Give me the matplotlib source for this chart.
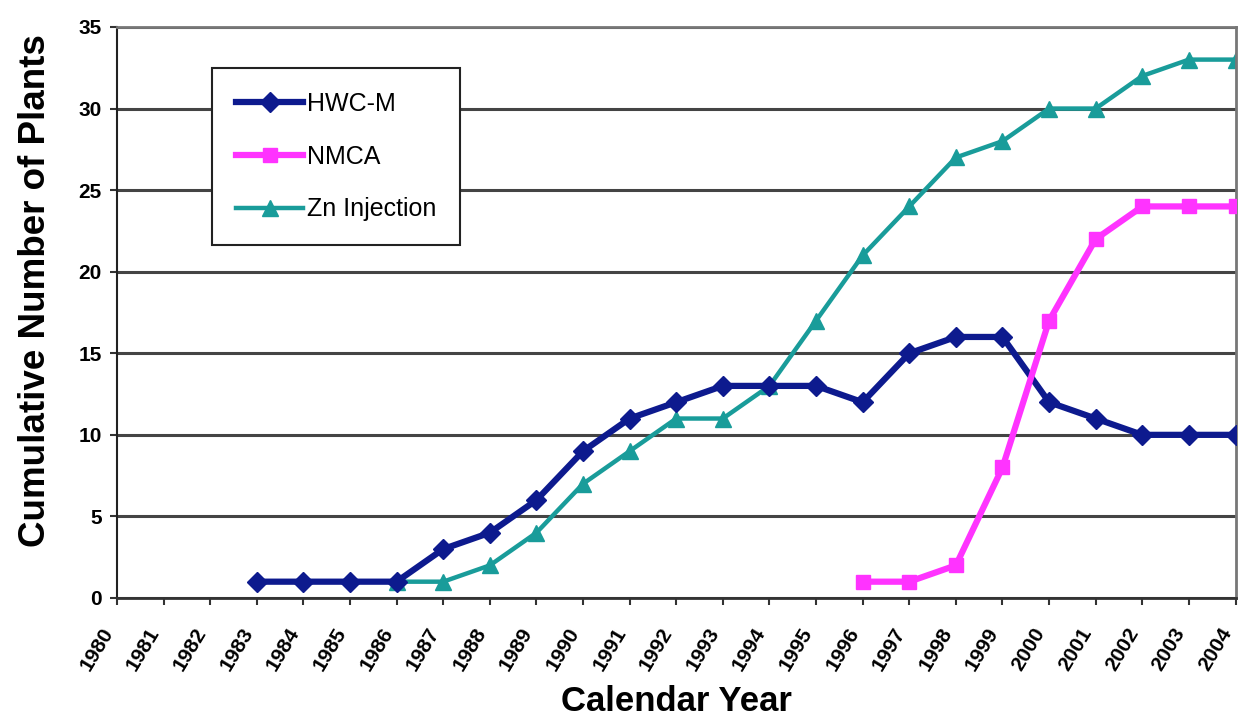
import matplotlib
matplotlib.use("Agg")
import matplotlib.pyplot as plt
import numpy as np

plt.rcParams['font.family'] = ['Liberation Sans', 'DejaVu Sans']

hwc_years = [1983, 1984, 1985, 1986, 1987, 1988, 1989, 1990, 1991, 1992, 1993,
             1994, 1995, 1996, 1997, 1998, 1999, 2000, 2001, 2002, 2003, 2004]
hwc_values = [1, 1, 1, 1, 3, 4, 6, 9, 11, 12, 13, 13, 13, 12, 15, 16, 16, 12, 11, 10, 10, 10]

nmca_years = [1996, 1997, 1998, 1999, 2000, 2001, 2002, 2003, 2004]
nmca_values = [1, 1, 2, 8, 17, 22, 24, 24, 24]

zn_years = [1986, 1987, 1988, 1989, 1990, 1991, 1992, 1993, 1994, 1995, 1996,
            1997, 1998, 1999, 2000, 2001, 2002, 2003, 2004]
zn_values = [1, 1, 2, 4, 7, 9, 11, 11, 13, 17, 21, 24, 27, 28, 30, 30, 32, 33, 33]

year_ticks = list(range(1980, 2005))
y_ticks = [0, 5, 10, 15, 20, 25, 30, 35]

fig = plt.figure(figsize=(12.38, 7.21), dpi=100)
ax = fig.add_axes([0.0945, 0.1706, 0.9035, 0.792])

navy = '#0d1a8e'
magenta = '#ff33ff'
teal = '#199c9a'

ax.plot(hwc_years, hwc_values, color=navy, lw=4.5, marker='D', ms=10,
        label='HWC-M', zorder=3)
ax.plot(nmca_years, nmca_values, color=magenta, lw=4.5, marker='s', ms=9.5,
        label='NMCA', zorder=4)
ax.plot(zn_years, zn_values, color=teal, lw=3.2, marker='^', ms=11,
        label='Zn Injection', zorder=2)

ax.set_xlim(1980, 2004)
ax.set_ylim(0, 35)
ax.set_xticks(year_ticks)
ax.set_xticklabels([str(y) for y in year_ticks], rotation=59, ha='right', va='top',
                   rotation_mode='default', fontsize=15, fontweight='bold')
ax.set_yticks(y_ticks)
ax.set_yticklabels([str(v) for v in y_ticks], fontsize=15, fontweight='bold')
ax.tick_params(axis='both', direction='out', length=5, width=1.5, color='#333333')
ax.tick_params(axis='x', pad=14)
ax.tick_params(axis='y', pad=6)

ax.yaxis.grid(True, color='#444444', lw=2.2)
ax.set_axisbelow(True)
for s in ['top', 'right']:
    ax.spines[s].set_color('#777777')
    ax.spines[s].set_linewidth(2)
ax.spines['left'].set_color('#222222')
ax.spines['left'].set_linewidth(1.5)
ax.spines['bottom'].set_color('#333333')
ax.spines['bottom'].set_linewidth(2)

ax.set_xlabel('Calendar Year', fontsize=25, fontweight='bold', labelpad=8)
ax.set_ylabel('Cumulative Number of Plants', fontsize=26.5, fontweight='bold')
ax.yaxis.set_label_coords(-0.057, 0.538)

leg = ax.legend(loc='upper left', bbox_to_anchor=(0.085, 0.928), borderaxespad=0,
                fontsize=18, labelspacing=1.15, handlelength=2.7, handletextpad=0.15,
                borderpad=0.95, fancybox=False, framealpha=1, edgecolor='#222222')
leg.get_frame().set_linewidth(1.5)

fig.savefig('out.png', dpi=100)
